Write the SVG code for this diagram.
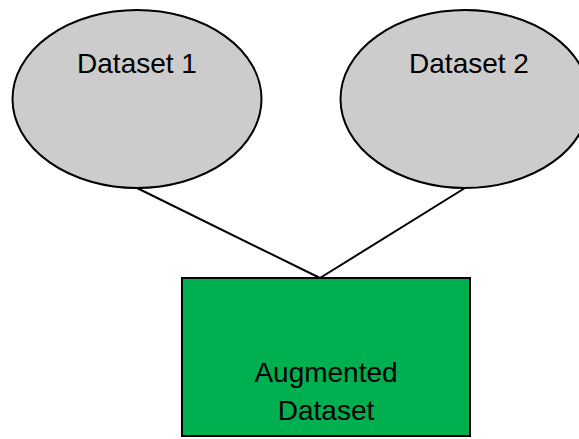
<svg xmlns="http://www.w3.org/2000/svg" width="579" height="439" viewBox="0 0 579 439">
<style>
.ell{fill:#CCCCCC;stroke:#000;stroke-width:2}
.box{fill:#00B050;stroke:#000;stroke-width:2}
.con{stroke:#000;stroke-width:2;fill:none}
text{font-family:"Liberation Sans",Arial,sans-serif;font-size:28px;fill:#000;text-anchor:middle}
</style>
<rect width="579" height="439" fill="#fff"/>
<g id="connectors">
<line class="con" x1="137" y1="188" x2="320" y2="278"/>
<line class="con" x1="465" y1="188" x2="320" y2="278"/>
</g>
<g id="dataset1">
<ellipse class="ell" cx="137" cy="99" rx="124.5" ry="89"/>
<text x="137" y="73">Dataset 1</text>
</g>
<g id="dataset2">
<ellipse class="ell" cx="465" cy="99" rx="124.5" ry="89"/>
<text x="469" y="73">Dataset 2</text>
</g>
<g id="augmented">
<rect class="box" x="182" y="278" width="288" height="158"/>
<text x="326" y="382">Augmented</text>
<text x="326" y="420">Dataset</text>
</g>
</svg>
